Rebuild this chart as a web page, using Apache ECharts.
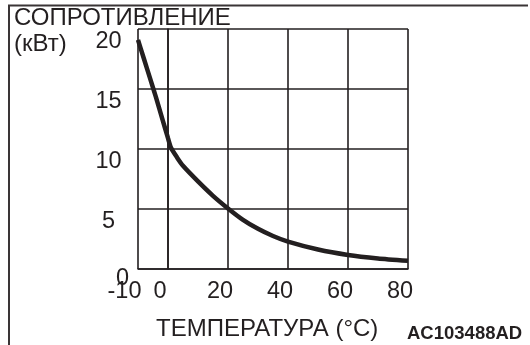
<!DOCTYPE html>
<html>
<head>
<meta charset="utf-8">
<script src="https://cdn.jsdelivr.net/npm/echarts@6/dist/echarts.min.js"></script>
<style>
html,body{margin:0;padding:0;background:#fff;}
#c{width:530px;height:345px;}
</style>
</head>
<body>
<div id="c"></div>
<script>
const temps = [-10, -8, -6, -4, -2, 0, 1, 3, 5, 10, 15, 20, 25, 30, 35, 40, 50, 60, 70, 80];
const resist = [19.1, 17.5, 15.9, 14.3, 12.6, 10.9, 10.1, 9.3, 8.6, 7.3, 6.1, 5.05, 4.1, 3.35, 2.75, 2.28, 1.62, 1.17, 0.88, 0.68];
const xTicks = [-10, 0, 20, 40, 60, 80];
const yTicks = [0, 5, 10, 15, 20];
const yTitle1 = 'СОПРОТИВЛЕНИЕ';
const yTitle2 = '(кВт)';
const xTitle = 'ТЕМПЕРАТУРА (°C)';
const code = 'AC103488AD';

const INK = '#231f20';
const FF = '"Liberation Sans", Arial, sans-serif';
const LS = 23.5;
const chart = echarts.init(document.getElementById('c'), null, {renderer: 'canvas'});

chart.setOption({
  animation: false,
  backgroundColor: '#fff',
  grid: {left: 138, top: 29, right: 122, bottom: 76, containLabel: false},
  xAxis: {
    type: 'value', min: -10, max: 80,
    axisLine: {show: true, onZero: false, lineStyle: {color: INK, width: 1.6}},
    axisTick: {show: false, customValues: xTicks},
    splitLine: {show: true, customValues: xTicks, lineStyle: {color: INK, width: 1.6}},
    axisLabel: {
      customValues: xTicks, margin: 11, color: INK, fontSize: LS, fontFamily: FF,
      formatter: v => v === -10 ? '{m|-10}' : '{n|' + v + '}',
      rich: {
        m: {fontSize: LS, fontFamily: FF, color: INK, padding: [0, 27, 0, 0]},
        n: {fontSize: LS, fontFamily: FF, color: INK, padding: [0, 16, 0, 0]}
      }
    }
  },
  yAxis: {
    type: 'value', min: 0, max: 20, interval: 5,
    axisLine: {show: true, lineStyle: {color: INK, width: 1.6}},
    axisTick: {show: false},
    splitLine: {show: true, lineStyle: {color: INK, width: 1.6}},
    axisLabel: {
      margin: 29.5, align: 'center', verticalAlign: 'middle', color: INK, fontSize: LS, fontFamily: FF,
      formatter: v => v === 0 ? '{z|0}' : '{a|' + v + '}',
      rich: {
        z: {fontSize: LS, fontFamily: FF, color: INK, padding: [19, 0, 0, 28]},
        a: {fontSize: LS, fontFamily: FF, color: INK, padding: [25, 0, 0, 0]}
      }
    }
  },
  series: [{
    type: 'line',
    data: temps.map((t, i) => [t, resist[i]]),
    smooth: 0.2,
    showSymbol: false,
    lineStyle: {color: INK, width: 4.5},
    z: 5
  }],
  graphic: [
    {type: 'line', shape: {x1: 8, y1: 5.5, x2: 528, y2: 5.5}, style: {stroke: '#3a3536', lineWidth: 2}},
    {type: 'line', shape: {x1: 9, y1: 5, x2: 9, y2: 345}, style: {stroke: '#3a3536', lineWidth: 2}},
    {type: 'text', x: 14, y: 18.8, style: {text: yTitle1, font: '24px ' + FF, fill: INK, verticalAlign: 'middle'}},
    {type: 'text', x: 14, y: 44, style: {text: yTitle2, font: '24px ' + FF, fill: INK, verticalAlign: 'middle'}},
    {type: 'text', x: 156, y: 329, style: {text: xTitle, font: '24px ' + FF, fill: INK, verticalAlign: 'middle'}},
    {type: 'text', x: 407, y: 334, style: {text: code, font: 'bold 18.5px ' + FF, fill: INK, verticalAlign: 'middle'}}
  ]
});
</script>
</body>
</html>
